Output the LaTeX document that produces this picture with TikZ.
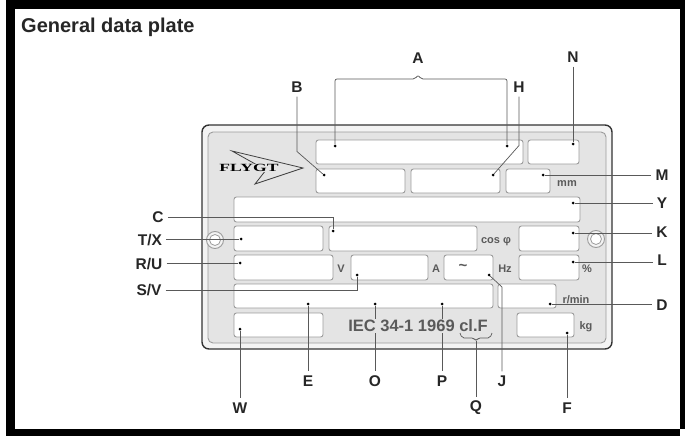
\documentclass[tikz,border=0pt]{standalone}
\usepackage{fontspec}
\setmainfont{Liberation Sans}
\newfontfamily\logofont{Liberation Serif}
\usepackage{graphicx}
\usepackage{tikz}
\usetikzlibrary{positioning, calc}

\definecolor{plategray}{HTML}{E4E4E4}
\definecolor{rimgray}{HTML}{F3F3F3}
\definecolor{edgegray}{HTML}{9C9C9C}
\definecolor{inkgray}{HTML}{5A5A5A}

\begin{document}
\begin{tikzpicture}[x=1pt, y=-1pt,
    field/.style={draw=edgegray, fill=white, line width=0.9pt, rounded corners=2.5pt},
    dot/.style={circle, fill=black, inner sep=0pt, minimum size=3pt},
    lbl/.style={font=\fontsize{15.5}{15.5}\selectfont\bfseries, text=black!85, inner sep=4pt},
    unit/.style={font=\fontsize{11}{11}\selectfont\bfseries, text=inkgray, inner sep=0pt},
    lead/.style={draw=black!65, line width=0.7pt}]

    \useasboundingbox (0,0) rectangle (685,436);
    % frame
    \fill[black] (6,0) rectangle (685,9);
    \fill[black] (6,0) rectangle (15,436);
    \fill[black] (680,0) rectangle (685,429);
    \fill[black] (6,429) rectangle (680,436);

    \node (title) [anchor=base west, inner sep=0pt, text=black!85,
        font=\fontsize{20}{20}\selectfont\bfseries] at (21,33) {General data plate};

    % plate
    \draw[draw=black!80, line width=1.4pt, fill=rimgray, rounded corners=7pt] (202,125) rectangle (612,349);
    \draw[draw=edgegray, line width=0.9pt, fill=plategray, rounded corners=5pt] (208,132) rectangle (606,343);
    \foreach \hx/\hy in {215/240, 596/239} {
        \draw[edgegray, fill=rimgray, line width=0.9pt] (\hx,\hy) circle (8.5pt);
        \draw[edgegray, fill=white, line width=0.8pt] (\hx,\hy) circle (5.5pt);
    }

    % logo
    \draw[black!75, line width=0.8pt] (232,151) -- (303,168) -- (255,184) -- (266,170) -- cycle;
    \node (logo) [font=\logofont\bfseries\fontsize{11}{11}\selectfont, fill=plategray, inner sep=0.5pt]
        at (249,168) {\scalebox{1.6}[1]{FLYGT}};

    % fields
    \foreach \a/\b/\c/\d in {316/140/523/164, 528/140/579/164, 316/169/405/193, 411/169/500/193,
        506/169/550/193, 234/197/580/222, 234/226/323/251, 329/226/477/251, 519/226/579/251,
        234/255/333/280, 351/255/428/280, 444/255/493/280, 519/255/579/280, 234/284/493/308,
        498/284/556/308, 234/313/323/337, 517/313/574/337}
        \draw[field] (\a,\b) rectangle (\c,\d);

    % units
    \node (mm) [unit] at (567,184) {mm};
    \node (cosphi) [unit] at (496,242) {cos φ};
    \node (volt) [unit] at (341,269) {V};
    \node (amp) [unit] at (436,269) {A};
    \node (tilde) [unit, font=\fontsize{15}{15}\selectfont\bfseries] at (463,267) {\textasciitilde};
    \node (hz) [unit] at (505,269) {Hz};
    \node (pct) [unit] at (587,269) {\%};
    \node (rpm) [unit] at (576,300) {r/min};
    \node (kg) [unit] at (586,327) {kg};

    % dots
    \node (dA1) [dot] at (335,146) {};
    \node (dA2) [dot] at (507,146) {};
    \node (dN) [dot] at (573,144) {};
    \node (dB) [dot] at (324,175) {};
    \node (dH) [dot] at (493,175) {};
    \node (dM) [dot] at (543,175) {};
    \node (dY) [dot] at (573,203) {};
    \node (dC) [dot] at (333,231) {};
    \node (dTX) [dot] at (241,239) {};
    \node (dK) [dot] at (573,233) {};
    \node (dRU) [dot] at (240,263) {};
    \node (dL) [dot] at (573,262) {};
    \node (dSV) [dot] at (357,275) {};
    \node (dJ) [dot] at (489,275) {};
    \node (dE) [dot] at (308,304) {};
    \node (dO) [dot] at (375,304) {};
    \node (dP) [dot] at (442,304) {};
    \node (dD) [dot] at (550,304) {};
    \node (dW) [dot] at (240,329) {};
    \node (dF) [dot] at (567,333) {};

    % labels
    \node (A) [lbl] at (418,58) {A};
    \node (N) [lbl] at (573,57) {N};
    \node (B) [lbl] at (297,87) {B};
    \node (H) [lbl] at (519,87) {H};
    \node (M) [lbl] at (662,175) {M};
    \node (Y) [lbl] at (662,203) {Y};
    \node (K) [lbl] at (662,232) {K};
    \node (L) [lbl] at (662,260) {L};
    \node (D) [lbl] at (662,305) {D};
    \node (C) [lbl] at (158,217) {C};
    \node (TX) [lbl] at (150,240) {T/X};
    \node (RU) [lbl] at (149,264) {R/U};
    \node (SV) [lbl] at (149,290) {S/V};
    \node (E) [lbl] at (308,381) {E};
    \node (O) [lbl] at (375,381) {O};
    \node (P) [lbl] at (442,381) {P};
    \node (J) [lbl] at (502,381) {J};
    \node (W) [lbl] at (240,408) {W};
    \node (Q) [lbl] at (476,408) {Q};
    \node (F) [lbl] at (567,408) {F};

    % leads
    \draw[lead, rounded corners=2pt] (dA1) -- (335,79) -- (415,79) -- (418,75) -- (421,79) -- (507,79) -- (dA2);
    \draw[lead] (N.south) -- (dN);
    \draw[lead] (B.south) -- ++(0,55) -- (dB);
    \draw[lead] (H.south) -- ++(0,49) -- (dH);
    \draw[lead] (dM) -- (dM -| M.west);
    \draw[lead] (dY) -- (dY -| Y.west);
    \draw[lead] (dK) -- (dK -| K.west);
    \draw[lead] (dL) -- (dL -| L.west);
    \draw[lead] (dD) -- (dD -| D.west);
    \draw[lead] (C.east) -- (dC |- C.east) -- (dC);
    \draw[lead] (TX.east |- dTX) -- (dTX);
    \draw[lead] (RU.east |- dRU) -- (dRU);
    \draw[lead] (SV.east) -- (dSV |- SV.east) -- (dSV);
    \draw[lead] (dJ) -- ++(13,12) -- (J.north);
    \draw[lead] (dE) -- (E.north);
    \draw[lead] (dO) -- (O.north);
    \draw[lead] (dP) -- (P.north);
    \draw[lead] (dW) -- (W.north);
    \draw[lead] (dF) -- (F.north);

    \node (iec) [font=\fontsize{16.5}{16.5}\selectfont\bfseries, text=inkgray, fill=plategray, inner sep=1pt]
        at (418,326) {IEC 34-1 1969 cl.F};
    \coordinate (qtip) at (476,341);
    \draw[lead, rounded corners=2pt] (460,333) -- (462,338) -- (474,338) -- (qtip) -- (478,338) -- (490,338) -- (492,333);
    \draw[lead] (qtip) -- (Q.north);
\end{tikzpicture}
\end{document}
